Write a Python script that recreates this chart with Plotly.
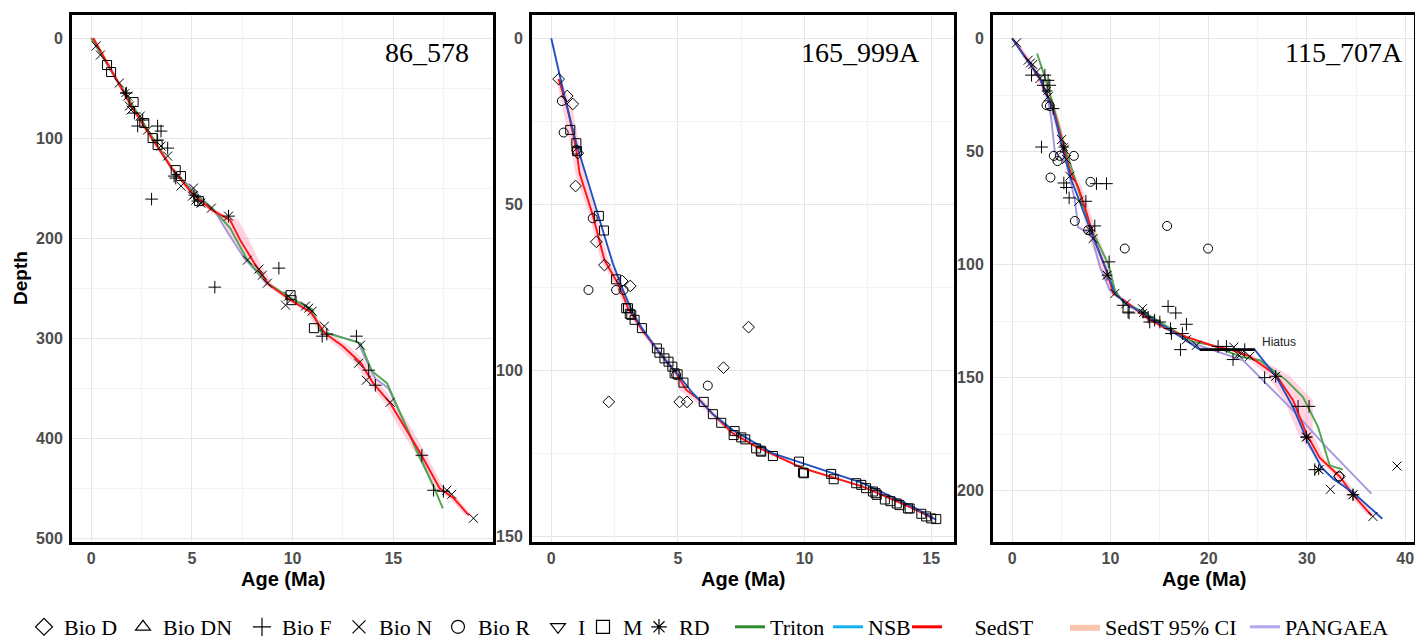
import plotly.graph_objects as go

W, H = 1415, 640

# ---------------- Panel 1 : 86_578 ----------------
p1_bioN_age = [0.25, 0.46, 1.4, 1.82, 1.9, 1.98, 2.44, 2.8, 3.47, 3.8, 4.46, 5.08, 5.03, 5.2, 5.45, 5.97, 6.82,
               7.76, 8.33, 8.5, 8.75, 9.65, 9.8, 10.64, 10.8, 10.97, 11.58, 13.37, 13.28, 13.66, 14.85, 17.66,
               17.9, 18.98]
p1_bioN_depth = [8, 17, 45, 58, 68, 72, 78, 92, 108, 118, 148, 150, 158, 162, 165, 170, 178, 222, 231, 237, 245,
                 267, 258, 268, 270, 273, 288, 307, 325, 342, 364, 452, 456, 480]
p1_bioF_age = [1.75, 2.15, 2.56, 2.31, 3.3, 3.47, 3.3, 3.8, 4.12, 4.2, 3.0, 5.3, 6.82, 9.32, 6.14, 11.47, 11.7,
               13.17, 13.78, 14.11, 16.42, 17.0, 17.49]
p1_bioF_depth = [55, 75, 82, 88, 88, 93, 102, 110, 138, 140, 161, 163, 178, 230, 249, 298, 296, 298, 332, 347,
                 417, 452, 453]
p1_M_age = [0.79, 0.99, 2.11, 2.64, 3.05, 3.3, 4.2, 4.46, 5.36, 9.9, 9.95, 11.06]
p1_M_depth = [27, 34, 64, 85, 100, 107, 132, 138, 163, 257, 262, 290]
p1_RD_age = [1.7, 5.1]
p1_RD_depth = [55, 157]

p1_triton_age = [0, 1, 2, 3, 4, 5, 6.1, 6.9, 7.76, 8.75, 9.9, 10.97, 11.39, 13.37, 13.94, 14.69, 16.17, 17.0, 17.46]
p1_triton_depth = [0, 33, 66, 98, 130, 153, 172, 190, 222, 245, 260, 271, 293, 305, 333, 345, 413, 448, 470]
p1_pangaea_age = [0, 2, 4, 6.1, 6.8, 7.6, 8.7, 9.9, 10.9, 11.45, 13.25, 13.65, 14.1, 14.75, 16.25, 17.1]
p1_pangaea_depth = [0, 67, 131, 172, 195, 220, 245, 260, 271, 293, 304, 322, 340, 350, 414, 453]
p1_sedst_age = [0.1, 1.0, 2.0, 3.0, 4.0, 5.0, 6.0, 6.9, 7.4, 8.1, 8.8, 9.9, 10.9, 11.6, 12.5, 13.4, 14.0, 14.85,
                15.6, 16.35, 17.3, 18.0, 18.75]
p1_sedst_depth = [0, 32, 68, 100, 130, 155, 172, 182, 202, 225, 246, 262, 274, 295, 308, 325, 345, 365, 390, 415,
                  450, 460, 477]
p1_ci_lo = [0.0, 0.9, 1.9, 2.9, 3.9, 4.85, 5.8, 6.5, 7.0, 7.85, 8.6, 9.75, 10.7, 11.35, 12.2, 13.1, 13.75, 14.6,
            15.3, 16.1, 17.05, 17.8, 18.55]
p1_ci_hi = [0.2, 1.1, 2.1, 3.1, 4.1, 5.15, 6.2, 7.3, 7.85, 8.4, 9.0, 10.05, 11.05, 11.8, 12.8, 13.7, 14.3, 15.1,
            15.9, 16.6, 17.5, 18.2, 18.9]

# ---------------- Panel 2 : 165_999A ----------------
p2_bioD_age = [0.29, 0.63, 0.85, 1.05, 0.96, 1.78, 2.1, 2.8, 3.12, 7.79, 6.8, 2.27, 5.07, 5.36]
p2_bioD_depth = [12.3, 17.4, 19.8, 34.6, 44.5, 61.3, 68.3, 73.1, 74.6, 87.0, 99.2, 109.5, 109.5, 109.5]
p2_bioR_age = [0.42, 0.49, 0.99, 1.64, 1.47, 2.56, 2.85, 4.93, 6.18]
p2_bioR_depth = [18.9, 28.4, 33.6, 54.2, 75.8, 75.8, 75.8, 101.4, 104.6]
p2_M_age = [0.75, 0.99, 1.02, 1.88, 2.08, 2.56, 3.03, 2.96, 3.1, 3.16, 3.29, 3.58, 4.17, 4.27, 4.47, 4.63, 4.78,
            4.87, 4.99, 5.22, 6.02, 6.38, 6.71, 7.24, 7.2, 7.5, 7.66, 8.09, 8.29, 8.27, 8.75, 9.78, 9.94, 9.98,
            11.05, 11.15, 12.04, 12.24, 12.43, 12.7, 12.8, 12.85, 13.17, 13.39, 13.64, 13.75, 14.08, 14.15, 14.61,
            14.8, 15.0, 15.2]
p2_M_depth = [27.6, 31.6, 34, 53.5, 57.9, 72.6, 81.3, 81.3, 83, 83.3, 84.8, 87.3, 93.4, 94.7, 96.4, 97.4, 98.9,
              100.9, 101.2, 103.7, 109.5, 113.2, 115.8, 118.3, 119.5, 120.2, 120.8, 123.5, 124.5, 124.2, 125.8,
              127.5, 130.8, 131.0, 131.2, 132.8, 134, 134.5, 135.5, 136.5, 137, 137.5, 138.9, 139.4, 140.1, 140.6,
              141.6, 141.6, 143.2, 144, 144.6, 144.8]

p2_nsb_age = [0, 0.29, 0.6, 0.99, 1.64, 2.06, 2.43, 2.83, 3.22, 3.58, 4.3, 5.07, 5.59, 6.38, 7.17, 8.75, 10.33,
              12.3, 14.28, 15.19]
p2_nsb_depth = [0, 10, 20, 31.6, 47.7, 58.7, 67.8, 75.8, 82.8, 87.3, 95, 101.9, 106.9, 113.2, 118, 125, 129, 134,
                141.1, 145]
p2_sedst_age = [0.29, 0.66, 0.99, 1.12, 1.64, 2.1, 2.7, 3.03, 3.6, 4.3, 4.93, 5.33, 5.86, 6.38, 7.17, 8.09, 9.94,
                12.3, 14.28, 15.07]
p2_sedst_depth = [12.3, 21.6, 33.6, 40.7, 53.3, 66.8, 74.8, 81.3, 88, 95, 100.9, 105.9, 108.9, 113.2, 119, 123,
                  129.5, 135, 141.6, 144.6]
p2_ci_lo = [0.2, 0.45, 0.8, 0.95, 1.5, 1.95, 2.55, 2.9, 3.5, 4.2, 4.83, 5.05, 5.6, 6.25, 7.05, 7.98, 9.84, 12.2,
            14.18, 14.97]
p2_ci_hi = [0.4, 0.85, 1.15, 1.3, 1.8, 2.25, 2.85, 3.15, 3.7, 4.4, 5.05, 5.45, 6.0, 6.5, 7.28, 8.2, 10.04, 12.4,
            14.38, 15.17]

# ---------------- Panel 3 : 115_707A ----------------
p3_bioF_age = [1.97, 3.33, 3.66, 3.83, 3.16, 4.17, 2.99, 5.26, 5.53, 8.58, 9.6, 5.8, 7.5, 8.41, 9.87, 11.8, 11.29,
               11.9, 13.84, 14.0, 14.5, 15.03, 15.87, 16.65, 16.11, 16.21, 17.74, 17.33, 17.13, 20.96, 21.81, 23.67,
               22.48, 25.7, 26.82, 29.1, 30.22, 29.95, 30.8, 34.69]
p3_bioF_depth = [16.2, 16.2, 18.5, 20.7, 20.7, 31, 48, 63.9, 65.9, 64.2, 64.2, 70.5, 72, 82.9, 98.8, 121, 118,
                 121.4, 123.2, 125.4, 124.6, 125.4, 118.5, 121.4, 128.3, 130.5, 126.4, 130.5, 137.6, 136.2, 136.2,
                 137.6, 142, 150, 149.4, 162.7, 162.7, 176.3, 190.7, 201.8]
p3_bioN_age = [0.45, 1.63, 1.87, 2.1, 2.48, 2.82, 3.66, 5.03, 5.3, 5.53, 5.87, 6.78, 8.24, 9.66, 10.45, 11.57,
               13.26, 17.74, 18.76, 22.56, 23.33, 23.0, 24.18, 26.82, 29.95, 31.23, 32.39, 34.69, 36.72, 39.17]
p3_bioN_depth = [1.9, 9.6, 10.8, 11.5, 14.8, 17.7, 25.8, 44.7, 49, 53.5, 60.9, 72, 88.5, 104.7, 112.8, 117.3,
                 119.5, 133.2, 135.7, 136.5, 139.4, 139.8, 140.6, 149.4, 176.3, 190.7, 199.4, 201.8, 211.4, 189.1]
p3_bioR_age = [3.5, 3.84, 4.24, 4.85, 4.62, 6.28, 3.9, 7.97, 6.38, 7.73, 15.77, 11.46, 19.94, 33.27]
p3_bioR_depth = [29.5, 29.9, 51.9, 51.9, 54.2, 51.9, 61.5, 63.4, 80.7, 84.8, 82.9, 92.9, 92.9, 193.7]
p3_bioD_age = [33.3]
p3_bioD_depth = [193.7]
p3_RD_age = [3.56, 5.26, 7.9, 9.66, 13.33, 29.95, 31.2, 34.69]
p3_RD_depth = [23.2, 48, 84.8, 104.7, 121.4, 176.3, 190.7, 201.8]

p3_nsb_age = [0, 2.82, 4.17, 5.19, 6.04, 7.06, 8.24, 9.6, 10.45, 11.8, 13.33, 16.38, 19.1, 24.69, 26.89, 28.59,
              30.1, 31.47, 32.66, 34.69, 37.68]
p3_nsb_depth = [0, 17.7, 31.7, 49.4, 62.7, 74.5, 87.8, 102.5, 112.8, 118, 121.4, 129.8, 137.6, 137.6, 149.7, 163,
                178.5, 189.6, 194.7, 200.8, 212.4]
p3_triton_age = [2.54, 3.66, 5.13, 6.38, 7.9, 9.77, 10.45, 11.29, 13.56, 16.38, 18.41, 20.45, 21.81, 23.5, 25.2,
                 27.91, 29.6, 31.13, 31.64, 32.32, 33.67]
p3_triton_depth = [6.6, 21.5, 44.7, 62, 82.9, 99.6, 111.3, 116.5, 121.4, 129, 134.2, 135.7, 138.3, 141, 142.3,
                   151.2, 158.6, 171.8, 179.2, 188.8, 190.7]
p3_pangaea_age = [0, 2.8, 3.66, 4.0, 4.34, 5.53, 6.38, 6.72, 8.07, 8.92, 9.94, 11.63, 16.04, 18.41, 23.5, 28.59,
                  31.98, 36.56]
p3_pangaea_depth = [0, 17, 27.3, 36.2, 50.2, 55.3, 71.5, 83.4, 87, 101, 111.4, 117, 129.1, 134.9, 142.3, 164.5,
                    180.7, 201.3]
p3_sedst_age = [0, 1.5, 2.8, 3.7, 4.3, 5.2, 5.9, 6.72, 7.5, 8.3, 9.7, 10.3, 11.63, 13.56, 15.5, 17.74, 20.5,
                22.48, 24.18, 26.89, 28.59, 29.95, 31.3, 33.33, 34.69, 36.56]
p3_sedst_depth = [0, 9, 17.7, 26, 33, 47, 58.7, 65.7, 76, 88, 104, 112.8, 116.5, 123.2, 128, 132, 136, 137.9,
                  140.6, 149, 160, 174.8, 185.4, 193.7, 201.8, 210.9]
p3_ci_lo = [0, 1.2, 2.5, 3.4, 4.0, 4.9, 5.6, 6.4, 7.1, 7.8, 9.2, 10.0, 11.3, 13.2, 15.1, 17.3, 20.0, 22.0, 23.7,
            26.0, 27.7, 29.1, 30.9, 32.9, 34.3, 36.2]
p3_ci_hi = [0.3, 1.8, 3.1, 4.0, 4.6, 5.5, 6.2, 7.1, 7.9, 8.8, 10.2, 10.6, 11.9, 13.9, 15.9, 18.1, 20.9, 22.9,
            24.7, 28.2, 30.6, 30.6, 31.7, 33.7, 35.1, 36.9]

hiatus_age = [19.1, 24.7]
hiatus_depth = [137.6, 137.6]

# ---------------- Legend ----------------
legend_marker_names = ["Bio D", "Bio DN", "Bio F", "Bio N", "Bio R", "I", "M", "RD"]
legend_line_names = ["Triton", "NSB", "\u00a0\u00a0\u00a0\u00a0\u00a0SedST", "SedST 95% CI", "PANGAEA"]
panel_labels = ["86_578", "165_999A", "115_707A"]

# ---------------- Styles ----------------
SYM = {"Bio D": "diamond-open", "Bio DN": "triangle-up-open", "Bio F": "cross-thin-open",
       "Bio N": "x-thin-open", "Bio R": "circle-open", "I": "triangle-down-open", "M": "square-open",
       "RD": "asterisk-open"}
C_GREEN = "#4ea64e"
C_RED = "#ff1414"
C_BLUE = "#2150c2"
C_PURPLE = "#a597de"
C_CI = "rgba(255,120,160,0.33)"

fig = go.Figure()


def ax(i):
    return ("x" if i == 1 else f"x{i}"), ("y" if i == 1 else f"y{i}")


def add_ci(i, depth, lo, hi):
    xa, ya = ax(i)
    fig.add_trace(go.Scatter(x=list(lo) + list(hi)[::-1], y=list(depth) + list(depth)[::-1], fill="toself",
                             fillcolor=C_CI, line=dict(width=0), mode="lines", showlegend=False,
                             hoverinfo="skip", xaxis=xa, yaxis=ya))


def add_line(i, age, depth, color, width=1.9):
    xa, ya = ax(i)
    fig.add_trace(go.Scatter(x=age, y=depth, mode="lines", line=dict(color=color, width=width),
                             showlegend=False, xaxis=xa, yaxis=ya))


def add_pts(i, age, depth, kind, size=9):
    xa, ya = ax(i)
    fig.add_trace(go.Scatter(x=age, y=depth, mode="markers",
                             marker=dict(symbol=SYM[kind], size=size, color="black",
                                         line=dict(color="black", width=1)),
                             showlegend=False, xaxis=xa, yaxis=ya))


# Panel 1
add_ci(1, p1_sedst_depth, p1_ci_lo, p1_ci_hi)
add_line(1, p1_pangaea_age, p1_pangaea_depth, C_PURPLE)
add_line(1, p1_triton_age, p1_triton_depth, C_GREEN)
add_line(1, p1_sedst_age, p1_sedst_depth, C_RED)
add_pts(1, p1_M_age, p1_M_depth, "M")
add_pts(1, p1_bioF_age, p1_bioF_depth, "Bio F")
add_pts(1, p1_bioN_age, p1_bioN_depth, "Bio N")
add_pts(1, p1_RD_age, p1_RD_depth, "RD")

# Panel 2
add_ci(2, p2_sedst_depth, p2_ci_lo, p2_ci_hi)
add_line(2, p2_sedst_age, p2_sedst_depth, C_RED)
add_line(2, p2_nsb_age, p2_nsb_depth, C_BLUE)
add_pts(2, p2_M_age, p2_M_depth, "M")
add_pts(2, p2_bioR_age, p2_bioR_depth, "Bio R")
add_pts(2, p2_bioD_age, p2_bioD_depth, "Bio D")

# Panel 3
add_ci(3, p3_sedst_depth, p3_ci_lo, p3_ci_hi)
add_line(3, p3_pangaea_age, p3_pangaea_depth, C_PURPLE)
add_line(3, p3_triton_age, p3_triton_depth, C_GREEN)
add_line(3, p3_sedst_age, p3_sedst_depth, C_RED)
add_line(3, p3_nsb_age, p3_nsb_depth, C_BLUE)
add_line(3, hiatus_age, hiatus_depth, "black", 2.6)
add_pts(3, p3_bioR_age, p3_bioR_depth, "Bio R")
add_pts(3, p3_bioD_age, p3_bioD_depth, "Bio D")
add_pts(3, p3_bioF_age, p3_bioF_depth, "Bio F")
add_pts(3, p3_bioN_age, p3_bioN_depth, "Bio N")
add_pts(3, p3_RD_age, p3_RD_depth, "RD")

# ---------------- Legend entries (one legend each, for exact placement) ----------------
legend_font = dict(family="Liberation Serif", size=22, color="black")
LEG_Y = 1 - 627 / H
marker_leg_x = [24, 123, 242, 339, 438, 538, 583, 639]
line_leg_x = [730, 828, 907, 1065, 1245]
legend_layout = {}
k = 0
for name, lx in zip(legend_marker_names, marker_leg_x):
    k += 1
    lname = "legend" if k == 1 else f"legend{k}"
    fig.add_trace(go.Scatter(x=[None], y=[None], mode="markers", name=name, legend=lname,
                             marker=dict(symbol=SYM[name], size=13, color="black",
                                         line=dict(color="black", width=1.2))))
    legend_layout[lname] = dict(x=lx / W, y=LEG_Y, xanchor="left", yanchor="middle", orientation="h",
                                font=legend_font, bgcolor="rgba(0,0,0,0)", itemwidth=30)
line_leg_colors = ["#2e8b2e", "#14b1ef", "#ff0000", None, "#b3a6ee"]
for name, lx, col in zip(legend_line_names, line_leg_x, line_leg_colors):
    k += 1
    lname = f"legend{k}"
    if col is None:
        fig.add_trace(go.Scatter(x=[None], y=[None], mode="lines", name=name, legend=lname, fill="toself",
                                 fillcolor="#fbc4ab", line=dict(width=0, color="#fbc4ab")))
    else:
        fig.add_trace(go.Scatter(x=[None], y=[None], mode="lines", name=name, legend=lname,
                                 line=dict(color=col, width=3)))
    legend_layout[lname] = dict(x=lx / W, y=LEG_Y, xanchor="left", yanchor="middle", orientation="h",
                                font=legend_font, bgcolor="rgba(0,0,0,0)", itemwidth=30)

# ---------------- Axes ----------------
px_domains = [(72, 493), (532, 954), (993, 1414)]
y_dom = [1 - 542 / H, 1 - 15 / H]
x_ranges = [[-0.95, 19.95], [-0.76, 15.9], [-1.95, 40.9]]
y_ranges = [[503.7, -23], [151.7, -7.0], [222.7, -10.4]]
x_major = [[0, 5, 10, 15], [0, 5, 10, 15], [0, 10, 20, 30, 40]]
x_minor = [[2.5, 7.5, 12.5, 17.5], [2.5, 7.5, 12.5], [5, 15, 25, 35]]
y_major = [[0, 100, 200, 300, 400, 500], [0, 50, 100, 150], [0, 50, 100, 150, 200]]
y_minor = [[50, 150, 250, 350, 450], [25, 75, 125], [25, 75, 125, 175]]

tick_font = dict(family="Liberation Sans", size=16, color="#4d4d4d", weight="bold")
layout_axes = {}
for i in range(3):
    xn = "xaxis" if i == 0 else f"xaxis{i + 1}"
    yn = "yaxis" if i == 0 else f"yaxis{i + 1}"
    a, b = px_domains[i]
    common = dict(showline=True, mirror=True, linecolor="black", linewidth=3, zeroline=False,
                  showgrid=True, gridcolor="#e6e6e6", gridwidth=1.3, ticks="", tickfont=tick_font,
                  automargin=False)
    layout_axes[xn] = dict(common, domain=[a / W, b / W], range=x_ranges[i], tickvals=x_major[i],
                           anchor=("y" if i == 0 else f"y{i + 1}"), ticklabelstandoff=0,
                           minor=dict(tickvals=x_minor[i], showgrid=True, gridcolor="#f2f2f2", gridwidth=1))
    layout_axes[yn] = dict(common, domain=y_dom, range=y_ranges[i], tickvals=y_major[i],
                           anchor=("x" if i == 0 else f"x{i + 1}"), ticklabelstandoff=3,
                           minor=dict(tickvals=y_minor[i], showgrid=True, gridcolor="#f2f2f2", gridwidth=1))

annotations = []
label_right_px = [471, 922, 1405]
for i in range(3):
    a, b = px_domains[i]
    annotations.append(dict(text=panel_labels[i], x=label_right_px[i] / W, y=1 - 52 / H, xref="paper",
                            yref="paper", xanchor="right", yanchor="middle", showarrow=False,
                            font=dict(family="Liberation Serif", size=28, color="black")))
    annotations.append(dict(text="<b>Age (Ma)</b>", x=(a + b) / 2 / W, y=1 - 579 / H, xref="paper",
                            yref="paper", xanchor="center", yanchor="middle", showarrow=False,
                            font=dict(family="Liberation Sans", size=20, color="black")))
annotations.append(dict(text="<b>Depth</b>", x=20 / W, y=1 - 278 / H, xref="paper", yref="paper",
                        xanchor="center", yanchor="middle", textangle=-90, showarrow=False,
                        font=dict(family="Liberation Sans", size=19, color="black")))
annotations.append(dict(text="Hiatus", x=25.2, y=134.2, xref="x3", yref="y3", xanchor="left",
                        yanchor="middle", showarrow=False,
                        font=dict(family="Liberation Sans", size=12, color="#222222")))

fig.update_layout(width=W, height=H, margin=dict(l=0, r=0, t=0, b=0, autoexpand=False),
                  paper_bgcolor="white", plot_bgcolor="white", annotations=annotations, hovermode=False,
                  **layout_axes, **legend_layout)

css_fix = ("var s=document.createElement('style');"
           "s.textContent='html,body{margin:0;padding:0;overflow:hidden;height:640px;}"
           "body>div{display:block;height:640px;overflow:hidden;}';"
           "document.head.appendChild(s);")
fig.write_html("out.html", config={"displayModeBar": False}, post_script=css_fix)
